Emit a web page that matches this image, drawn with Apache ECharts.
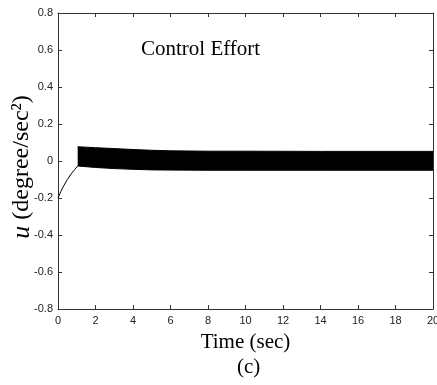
<!DOCTYPE html>
<html>
<head>
<meta charset="utf-8">
<script src="https://cdn.jsdelivr.net/npm/echarts@6/dist/echarts.min.js"></script>
<style>
html,body{margin:0;padding:0;background:#fff;}
#main{width:437px;height:385px;}
</style>
</head>
<body>
<div id="main"></div>
<script>
// initial transient (t < ~1 s)
var curveT = [0, 0.15, 0.3, 0.5, 0.7, 0.9, 1.05];
var curveU = [-0.2, -0.165, -0.135, -0.1, -0.07, -0.045, -0.027];
// chattering band envelope
var bandT = [1.05, 2, 3, 4, 5, 6, 8, 10, 14, 20];
var bandTop = [0.077, 0.072, 0.067, 0.062, 0.058, 0.055, 0.053, 0.053, 0.052, 0.052];
var bandBottom = [-0.027, -0.035, -0.041, -0.045, -0.048, -0.049, -0.05, -0.05, -0.05, -0.05];

function pairs(xs, ys){
    return xs.map(function(x, i){ return [x, ys[i]]; });
}

var axisCol = '#333';
var tickFont = {color:'#222', fontFamily:'Liberation Sans', fontSize:11};
var serif = 'Liberation Serif';

var myChart = echarts.init(document.getElementById('main'));

var opt = {
    animation:false,
    title:[{
        text:'Control Effort',
        left:136, top:34,
        textStyle:{fontFamily:serif, fontSize:21, fontWeight:'normal', color:'#000'}
    },{
        text:'(c)',
        left:232, top:352,
        textStyle:{fontFamily:serif, fontSize:21, fontWeight:'normal', color:'#000'}
    }],
    graphic:[{
        type:'text',
        x:22, y:167, rotation:Math.PI/2,
        style:{
            text:'{i|u} (degree/sec²)',
            fontFamily:serif, fontSize:24, fill:'#000',
            align:'center', verticalAlign:'middle',
            rich:{i:{fontFamily:serif, fontStyle:'italic', fontSize:26, fill:'#000'}}
        }
    }],
    grid:{left:58, right:4, top:13, bottom:76, outerBoundsMode:'none'},
    xAxis:[{
        type:'value', min:0, max:20, interval:2,
        name:'Time (sec)', nameLocation:'middle', nameGap:23,
        nameTextStyle:{fontFamily:serif, fontSize:21, color:'#000', padding:[0,0,0,0]},
        axisLine:{onZero:false, lineStyle:{color:axisCol}},
        axisTick:{inside:true, length:4, lineStyle:{color:axisCol}},
        axisLabel:Object.assign({margin:6}, tickFont),
        splitLine:{show:false}
    },{
        type:'value', min:0, max:20, interval:2, position:'top',
        axisLine:{onZero:false, lineStyle:{color:axisCol}},
        axisTick:{inside:true, length:4, lineStyle:{color:axisCol}},
        axisLabel:{show:false},
        splitLine:{show:false}
    }],
    yAxis:[{
        type:'value', min:-0.8, max:0.8, interval:0.2,
        axisLine:{onZero:false, lineStyle:{color:axisCol}},
        axisTick:{inside:true, length:4, lineStyle:{color:axisCol}},
        axisLabel:Object.assign({margin:5}, tickFont),
        splitLine:{show:false}
    },{
        type:'value', min:-0.8, max:0.8, interval:0.2, position:'right',
        axisLine:{onZero:false, lineStyle:{color:axisCol}},
        axisTick:{inside:true, length:4, lineStyle:{color:axisCol}},
        axisLabel:{show:false},
        splitLine:{show:false}
    }],
    series:[{
        type:'line', showSymbol:false,
        data:pairs(curveT, curveU),
        lineStyle:{color:'#000', width:1}
    },{
        type:'line', showSymbol:false,
        data:pairs(bandT, bandTop),
        lineStyle:{color:'#000', width:1},
        areaStyle:{color:'#000', opacity:1, origin:0}
    },{
        type:'line', showSymbol:false,
        data:pairs(bandT, bandBottom),
        lineStyle:{color:'#000', width:1},
        areaStyle:{color:'#000', opacity:1, origin:0}
    }]
};

myChart.setOption(opt);
</script>
</body>
</html>
